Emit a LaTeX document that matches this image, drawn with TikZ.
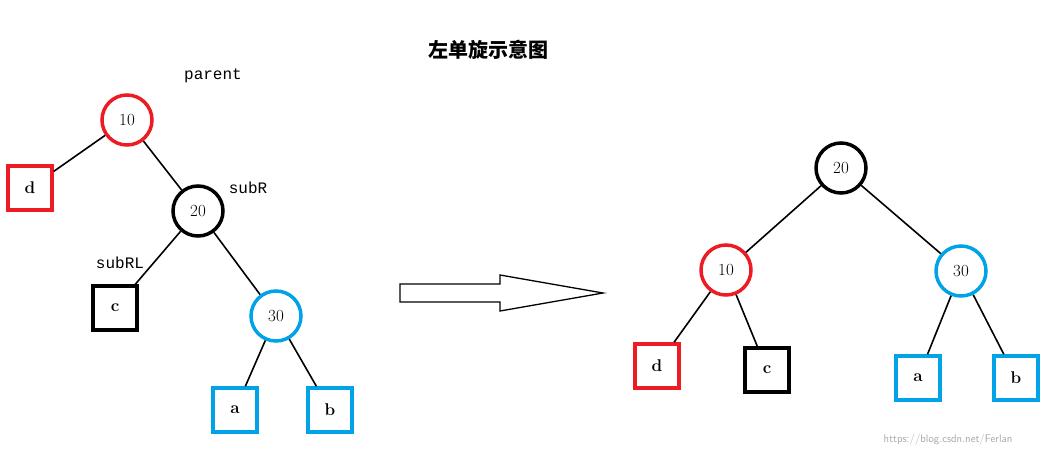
\documentclass[tikz,border=0pt]{standalone}
\usepackage{fontspec}
\newfontfamily\cjk{Noto Sans CJK SC}
\newfontfamily\monof{Liberation Mono}
\definecolor{tred}{RGB}{237,28,36}
\definecolor{tblue}{RGB}{0,162,232}
\begin{document}
\begin{tikzpicture}[x=1pt,y=-1pt,
 cir/.style={circle,draw,line width=3.5pt,minimum size=50pt,inner sep=0pt,font=\fontsize{17}{20}\selectfont},
 sq/.style={rectangle,draw,line width=3.5pt,minimum size=44pt,inner sep=0pt,font=\fontsize{17}{20}\selectfont\bfseries},
 lab/.style={font=\monof\fontsize{16}{18}\selectfont},
 edge/.style={line width=1.6pt}]
\useasboundingbox (0,0) rectangle (1051,458);
\node[cir,tred] (p10) at (127,120) {\color{black}10};
\node[sq,tred] (ld) at (30,188) {\color{black}d};
\node[cir,black] (p20) at (198,211) {20};
\node[sq,black] (lc) at (115,308) {c};
\node[cir,tblue] (p30) at (276,316) {\color{black}30};
\node[sq,tblue] (la) at (235,410) {\color{black}a};
\node[sq,tblue] (lb) at (330,410) {\color{black}b};
\draw[edge] (p10) -- (ld); \draw[edge] (p10) -- (p20);
\draw[edge] (p20) -- (lc); \draw[edge] (p20) -- (p30);
\draw[edge] (p30) -- (la); \draw[edge] (p30) -- (lb);
\node[lab] (tp) at (213,76) {parent};
\node[lab] (ts) at (248,188) {subR};
\node[lab] (trl) at (120,263) {subRL};
\node[font=\cjk\bfseries\fontsize{20}{24}\selectfont] (title) at (488,50) {左单旋示意图};
\draw[line width=1.3pt] (400,284) -- (500,284) -- (500,275) -- (603,293) -- (500,311) -- (500,302) -- (400,302) -- cycle;
\node[cir,black] (r20) at (841,168) {20};
\node[cir,tred] (r10) at (726,270) {\color{black}10};
\node[cir,tblue] (r30) at (961,271) {\color{black}30};
\node[sq,tred] (rd) at (657,366) {\color{black}d};
\node[sq,black] (rc) at (767,370) {c};
\node[sq,tblue] (ra) at (918,378) {\color{black}a};
\node[sq,tblue] (rb) at (1016,378) {\color{black}b};
\draw[edge] (r20) -- (r10); \draw[edge] (r20) -- (r30);
\draw[edge] (r10) -- (rd); \draw[edge] (r10) -- (rc);
\draw[edge] (r30) -- (ra); \draw[edge] (r30) -- (rb);
\node[font=\sffamily\fontsize{11}{13}\selectfont,text=black!35] (wm) at (948,440) {https://blog.csdn.net/Ferlan};
\end{tikzpicture}
\end{document}
